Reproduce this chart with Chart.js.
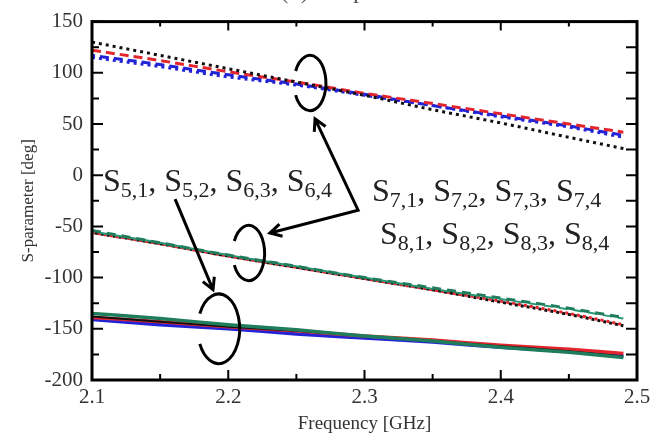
<!DOCTYPE html>
<html>
<head>
<meta charset="utf-8">
<script src="https://cdn.jsdelivr.net/npm/chart.js@4.4.0/dist/chart.umd.min.js"></script>
<style>
  body { margin: 0; background: #fff; }
  #wrap { width: 667px; height: 435px; }
</style>
</head>
<body>
<div id="wrap"><canvas id="myChart" width="667" height="435"></canvas></div>
<script>
// frequency points [GHz]
var freq = [2.10, 2.15, 2.20, 2.25, 2.30, 2.35, 2.40, 2.45, 2.49];

// upper group (S7,x)
var s7Black = [130, 117, 104, 91, 78, 64, 51, 37, 26];
var s7Red   = [122, 112, 101, 91, 80, 70, 60, 50, 42];
var s7Blue  = [117, 108, 98, 89, 79, 68, 58, 48, 39];
var s7Blue2 = [115, 106, 96, 88, 78, 68, 57, 47, 37];

// middle group (S8,x)
var s8Green = [-54, -66, -78, -89, -100, -110, -120, -130, -139];
var s8Teal  = [-55, -66, -78, -89, -100, -111, -121, -131, -140];
var s8Red   = [-56, -67, -79, -90, -101, -112, -123, -135, -146];
var s8Black = [-56, -67, -79, -90, -101, -112, -124, -136, -147];

// lower group (S5,x / S6,x)
var s5Green = [-135, -140, -146, -151, -157, -162, -168, -173, -178];
var s6Black = [-138, -143, -148, -152, -157, -162, -167, -172, -177];
var s5Red   = [-139, -143, -148, -152, -157, -161, -166, -170, -174];
var s5Blue  = [-141, -146, -150, -155, -159, -163, -168, -172, -176];

var xTicks = [2.1, 2.2, 2.3, 2.4, 2.5];
var yTicks = [-200, -150, -100, -50, 0, 50, 100, 150];

// annotation marks, in data units
var rings = [
    {x: 2.260, y: 90, rx: 0.0117, ry: 27},
    {x: 2.215, y: -76, rx: 0.0117, ry: 27},
    {x: 2.193, y: -150, rx: 0.0154, ry: 34}
];
var notes = [
    {x: 2.108, y: -15, subs: ['5,1', '5,2', '6,3', '6,4']},
    {x: 2.3055, y: -25.5, subs: ['7,1', '7,2', '7,3', '7,4']},
    {x: 2.3114, y: -67.2, subs: ['8,1', '8,2', '8,3', '8,4']}
];

var RED = '#e3262e', BLUE = '#2323d6', GREEN = '#1f7d5b', TEAL = '#2a9a78', BLACK = '#111';
var SERIF = '"Liberation Serif", "Times New Roman", serif';

function pts(ys) {
    return ys.map(function (v, i) { return {x: freq[i], y: v}; });
}
function line(data, color, width, dash, offset) {
    return {
        data: pts(data), borderColor: color, borderWidth: width,
        borderDash: dash || [], borderDashOffset: offset || 0,
        pointRadius: 0, fill: false, cubicInterpolationMode: 'monotone'
    };
}

function arrowHead(ctx, x0, y0, x1, y1) {
    var a = Math.atan2(y1 - y0, x1 - x0), L = 13, w = 0.5;
    ctx.beginPath();
    ctx.moveTo(x1 - L * Math.cos(a - w), y1 - L * Math.sin(a - w));
    ctx.lineTo(x1, y1);
    ctx.lineTo(x1 - L * Math.cos(a + w), y1 - L * Math.sin(a + w));
    ctx.stroke();
}

var decor = {
    id: 'decor',
    afterDraw: function (chart) {
        var ctx = chart.ctx, a = chart.chartArea;
        var xs = chart.scales.x, ys = chart.scales.y;
        var px = function (v) { return xs.getPixelForValue(v); };
        var py = function (v) { return ys.getPixelForValue(v); };
        ctx.save();
        ctx.strokeStyle = '#000';
        ctx.lineCap = 'butt';

        // inward ticks on all sides
        ctx.lineWidth = 2;
        var i, v, len;
        for (i = 0; i <= 8; i++) {
            v = 2.1 + i * 0.05;
            len = (i % 2 === 0) ? 10 : 6;
            ctx.beginPath();
            ctx.moveTo(px(v), a.bottom); ctx.lineTo(px(v), a.bottom - len);
            ctx.moveTo(px(v), a.top); ctx.lineTo(px(v), a.top + len - 1);
            ctx.stroke();
        }
        for (i = 0; i <= 14; i++) {
            v = -200 + i * 25;
            len = (i % 2 === 0) ? 11 : 7;
            ctx.beginPath();
            ctx.moveTo(a.left, py(v)); ctx.lineTo(a.left + len, py(v));
            ctx.moveTo(a.right, py(v)); ctx.lineTo(a.right - 11, py(v));
            ctx.stroke();
        }

        // frame
        ctx.lineWidth = 3;
        ctx.strokeRect(a.left, a.top, a.right - a.left, a.bottom - a.top);

        // rings with an opening on the left
        rings.forEach(function (r) {
            var cx = px(r.x), cy = py(r.y);
            var rx = px(r.x + r.rx) - cx, ry = cy - py(r.y + r.ry);
            ctx.beginPath();
            ctx.ellipse(cx, cy, rx, ry, 0, Math.PI + 0.45, Math.PI - 0.45);
            ctx.stroke();
        });

        // arrows
        var s1 = [px(2.161), py(-23.4)], t1 = [px(2.1888), py(-111.8)];
        ctx.beginPath(); ctx.moveTo(s1[0], s1[1]); ctx.lineTo(t1[0], t1[1]); ctx.stroke();
        arrowHead(ctx, s1[0], s1[1], t1[0], t1[1]);
        var vx = [px(2.2953), py(-34.2)];
        var t2 = [px(2.2637), py(55)], t3 = [px(2.2306), py(-56.5)];
        ctx.beginPath();
        ctx.moveTo(t2[0], t2[1]); ctx.lineTo(vx[0], vx[1]); ctx.lineTo(t3[0], t3[1]);
        ctx.stroke();
        arrowHead(ctx, vx[0], vx[1], t2[0], t2[1]);
        arrowHead(ctx, vx[0], vx[1], t3[0], t3[1]);

        // labels with subscripts
        ctx.fillStyle = '#222';
        ctx.textBaseline = 'alphabetic';
        ctx.textAlign = 'left';
        notes.forEach(function (n) {
            var x = px(n.x), y = py(n.y);
            n.subs.forEach(function (s, k) {
                ctx.font = '32px ' + SERIF;
                ctx.fillText('S', x, y);
                x += ctx.measureText('S').width;
                ctx.font = '22px ' + SERIF;
                ctx.fillText(s, x, y + 6);
                x += ctx.measureText(s).width;
                if (k < n.subs.length - 1) {
                    ctx.font = '32px ' + SERIF;
                    ctx.fillText(', ', x, y);
                    x += ctx.measureText(', ').width;
                }
            });
        });

        // title, mostly cut off at the top
        ctx.font = '25px ' + SERIF;
        ctx.fillStyle = '#555';
        ctx.fillText('(b) Output Phase', 280, -2);
        ctx.restore();
    }
};

var tickFont = {family: SERIF, size: 21};

var myChart = new Chart(document.getElementById('myChart'), {
    type: 'line',
    data: {
        datasets: [
            line(s7Black, BLACK, 3, [3, 4]),
            line(s7Red, RED, 3, [9, 5]),
            line(s7Blue, BLUE, 3, [9, 5], 6),
            line(s7Blue2, BLUE, 3, [3, 4]),
            line(s8Green, GREEN, 3, [9, 6]),
            line(s8Teal, TEAL, 2, [9, 6], 7),
            line(s8Red, RED, 3, [3, 3]),
            line(s8Black, BLACK, 3, [3, 3], 3),
            line(s5Green, GREEN, 3.5),
            line(s6Black, BLACK, 2),
            line(s5Red, RED, 3.5),
            line(s5Blue, BLUE, 3.5)
        ]
    },
    options: {
        responsive: false,
        animation: false,
        layout: {padding: {top: 19, right: 30, left: 0, bottom: 0}},
        plugins: {legend: {display: false}, tooltip: {enabled: false}},
        scales: {
            x: {
                type: 'linear', min: 2.1, max: 2.5,
                afterBuildTicks: function (s) { s.ticks = xTicks.map(function (v) { return {value: v}; }); },
                afterFit: function (s) { s.height = 55; },
                ticks: {font: tickFont, color: '#333', padding: 5, maxRotation: 0,
                        callback: function (v) { return Number(v).toFixed(1); }},
                grid: {display: false, drawTicks: false},
                border: {display: false},
                title: {display: true, text: 'Frequency [GHz]', color: '#333',
                        font: {family: SERIF, size: 19}, padding: {top: 0, bottom: 0}}
            },
            y: {
                type: 'linear', min: -200, max: 150,
                afterBuildTicks: function (s) { s.ticks = yTicks.map(function (v) { return {value: v}; }); },
                afterFit: function (s) { s.width = 92; },
                ticks: {font: tickFont, color: '#333', padding: 9},
                grid: {display: false, drawTicks: false},
                border: {display: false},
                title: {display: true, text: 'S-parameter [deg]', color: '#333',
                        font: {family: SERIF, size: 17}, padding: {top: 18, bottom: 0}}
            }
        }
    },
    plugins: [decor]
});
</script>
</body>
</html>
